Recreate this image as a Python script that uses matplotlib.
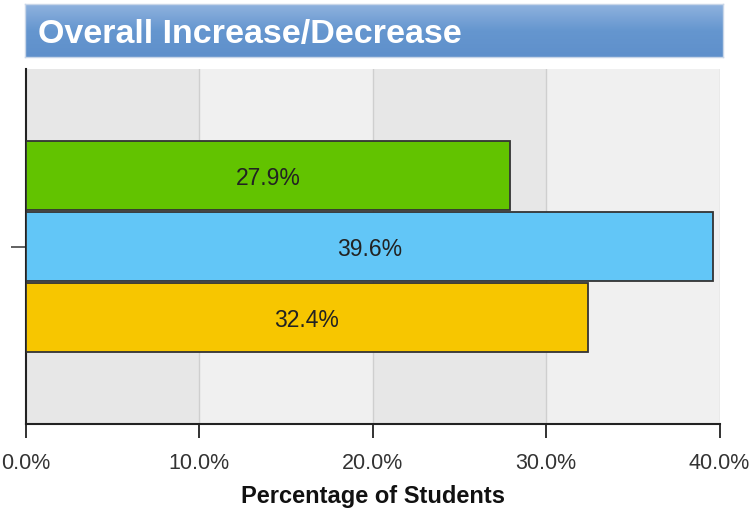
import numpy as np
import matplotlib
matplotlib.use('Agg')
import matplotlib.pyplot as plt
from matplotlib.colors import LinearSegmentedColormap

# Chart data
title = 'Overall Increase/Decrease'
values = [27.9, 39.6, 32.4]
bar_colors = ['#62c300', '#62c6f7', '#f7c600']
x_ticks = [0, 10, 20, 30, 40]
x_label = 'Percentage of Students'

plt.rcParams['font.family'] = ['Liberation Sans', 'DejaVu Sans']

fig = plt.figure(figsize=(7.52, 5.10), dpi=100)
W, H = 752, 510

# Title banner with a vertical gradient
banner = fig.add_axes([25 / W, 1 - 58 / H, 698 / W, 53 / H])
cmap = LinearSegmentedColormap.from_list('banner', ['#5f90cb', '#6596cf', '#8fb2de'])
grad = np.linspace(0, 1, 100).reshape(-1, 1)
banner.imshow(grad, aspect='auto', cmap=cmap, origin='lower', extent=[0, 1, 0, 1])
banner.set_xlim(0, 1)
banner.set_ylim(0, 1)
banner.set_xticks([])
banner.set_yticks([])
for s in banner.spines.values():
    s.set_color('#c8d6e8')
    s.set_linewidth(1)
banner.text(13 / 698, 0.44, title, color='white', fontsize=24.5, fontweight='bold',
            va='center', ha='left', transform=banner.transAxes)

# Main plot
ax = fig.add_axes([26 / W, 1 - 425 / H, (719.5 - 26) / W, 355 / H])
ax.set_xlim(0, 40)
ax.set_ylim(-0.5, 0.5)

# alternating background bands
for i in range(len(x_ticks) - 1):
    ax.axvspan(x_ticks[i], x_ticks[i + 1], color='#e7e7e7' if i % 2 == 0 else '#f0f0f0',
               zorder=0, lw=0)
for t in x_ticks[1:]:
    ax.axvline(t, color='#cfcfcf', lw=1, zorder=1)

offsets = [0.2, 0.0, -0.2]
for v, c, off in zip(values, bar_colors, offsets):
    ax.barh(off, v, height=0.195, color=c, edgecolor='#333333', linewidth=1.3, zorder=3)
    ax.text(v / 2, off - 0.005, f'{v:.1f}%', ha='center', va='center', fontsize=16.5,
            color='#222222', zorder=4)

ax.set_xticks(x_ticks)
ax.set_xticklabels([f'{t:.1f}%' for t in x_ticks], fontsize=15.5, color='#333333')
ax.set_yticks([0])
ax.set_yticklabels([''])
ax.tick_params(axis='y', length=11, width=1.3, color='#555555')
ax.tick_params(axis='x', length=10, width=1.3, color='#222222', pad=10)
ax.set_xlabel(x_label, fontsize=17, fontweight='bold', color='#111111', labelpad=8)

ax.spines['top'].set_visible(False)
ax.spines['right'].set_visible(False)
ax.spines['left'].set_color('#222222')
ax.spines['left'].set_linewidth(1.5)
ax.spines['bottom'].set_color('#222222')
ax.spines['bottom'].set_linewidth(1.5)

fig.savefig('out.png', dpi=100)
